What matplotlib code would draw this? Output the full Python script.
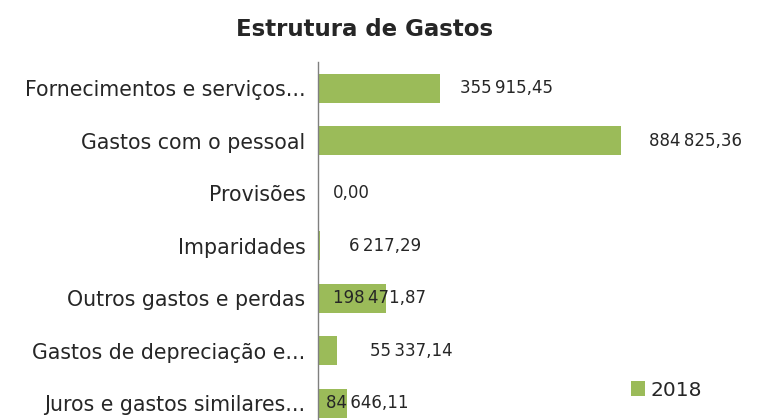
import matplotlib
matplotlib.use("Agg")
import matplotlib.pyplot as plt

plt.rcParams['font.family'] = ['DejaVu Sans']

categories = [
    "Fornecimentos e serviços...",
    "Gastos com o pessoal",
    "Provisões",
    "Imparidades",
    "Outros gastos e perdas",
    "Gastos de depreciação e...",
    "Juros e gastos similares...",
]
values_2018 = [355915.45, 884825.36, 0.00, 6217.29, 198471.87, 55337.14, 84646.11]
series_name = "2018"

# horizontal nudges for the value labels (pixels from bar end)
label_dx = [20, 28, 15, 29, -53, 33, -21]

bar_color = "#9bbb59"
text_color = "#262626"


def fmt(v):
    s = f"{v:,.2f}"
    return s.replace(",", "\u2009").replace(".", ",")


def main():
    fig = plt.figure(figsize=(7.71, 4.20), dpi=100)
    ax = fig.add_axes([318 / 771, -0.023, (705 - 318) / 771, 0.875])

    ypos = list(range(len(categories)))
    ax.barh(ypos, values_2018, height=0.55, color=bar_color, label=series_name)
    ax.set_ylim(len(categories) - 0.5, -0.5)
    ax.set_xlim(0, 1.13e6)

    ax.set_yticks(ypos)
    ax.set_yticklabels(categories, fontsize=14.8, color=text_color)
    ax.tick_params(axis='y', length=0, pad=9)
    ax.set_xticks([])
    for side in ('top', 'right', 'bottom'):
        ax.spines[side].set_visible(False)
    ax.spines['left'].set_color('#7f7f7f')
    ax.spines['left'].set_linewidth(1.0)

    for y, v, dx in zip(ypos, values_2018, label_dx):
        ax.annotate(fmt(v), (v, y), xytext=(dx, 0), textcoords='offset pixels',
                    ha='left', va='center', fontsize=12, color=text_color)

    fig.text(365 / 771, 1 - 30 / 420, "Estrutura de Gastos", ha='center', va='center',
             fontsize=16.5, fontweight='bold', color=text_color)

    fig.legend(loc='center left', bbox_to_anchor=(613 / 771, 1 - 390 / 420),
               frameon=False, fontsize=14.5, handlelength=0.7, handleheight=0.7,
               handletextpad=0.25, labelcolor=text_color)

    fig.savefig("out.png", dpi=100)


if __name__ == '__main__':
    main()
